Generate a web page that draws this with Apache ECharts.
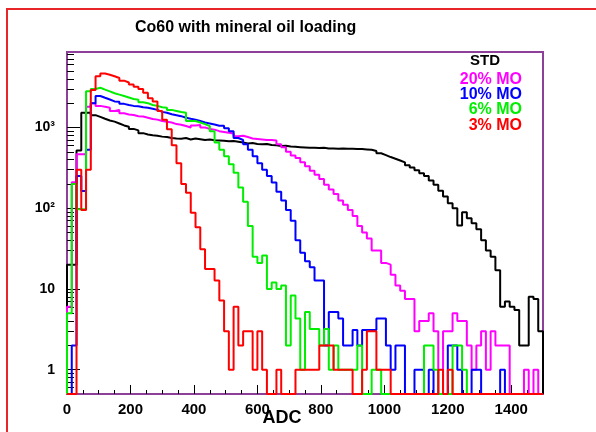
<!DOCTYPE html>
<html>
<head>
<meta charset="utf-8">
<script src="https://cdn.jsdelivr.net/npm/echarts@6/dist/echarts.min.js"></script>
<style>
  html, body { margin: 0; padding: 0; background: #fff; }
  #chart { width: 596px; height: 432px; }
</style>
</head>
<body>
<div id="chart"></div>
<script>
// histogram: 100 bins of 15 ADC from 0 to 1500, counts per bin (0 = empty bin)
const binWidth = 15;

const std = [
  20, 20, 520, 1520, 1520, 1420, 1350, 1280, 1220, 1180,
  1120, 1060, 1020, 960, 920, 850, 820, 800, 790, 770,
  760, 740, 730, 725, 740, 710, 730, 715, 700, 710,
  695, 690, 685, 675, 680, 665, 650, 635, 640, 625,
  620, 625, 605, 600, 590, 595, 580, 575, 570, 565,
  560, 560, 555, 560, 550, 550, 545, 550, 545, 545,
  540, 540, 535, 530, 510, 480, 455, 430, 410, 390,
  370, 340, 320, 295, 270, 250, 220, 195, 165, 140,
  115, 100, 61, 89, 75, 65, 55, 40, 30, 25,
  17, 6, 7, 6, 5.5, 2, 2, 8, 7.5, 3
];

const mo20 = [
  6, 210, 465, 465, 1800, 2000, 1850, 1800, 1750, 1600,
  1650, 1500, 1450, 1430, 1380, 1370, 1320, 1270, 1250, 1200,
  1180, 1150, 1100, 1080, 1040, 1000, 1060, 1070, 1000, 960,
  940, 900, 880, 860, 840, 780, 790, 760, 730, 720,
  710, 700, 700, 690, 620, 570, 500, 450, 420, 370,
  330, 290, 260, 230, 195, 170, 150, 125, 110, 95,
  80, 60, 50, 42, 30, 30, 21, 20, 15, 11,
  9.5, 7.5, 7.5, 3, 4, 4, 5, 3, 0, 3,
  3, 5, 4, 4, 2, 1, 2, 3, 1, 3,
  2, 2, 2, 0, 0, 0, 1, 0, 1, 0
];

const mo10 = [
  0, 2, 250, 163, 530, 2000, 2450, 2330, 2220, 2100,
  2080, 1960, 1900, 1850, 1830, 1780, 1750, 1700, 1650, 1560,
  1520, 1460, 1420, 1380, 1320, 1280, 1250, 1200, 1150, 1120,
  1090, 1050, 1050, 980, 900, 740, 700, 620, 530, 440,
  360, 300, 250, 208, 160, 125, 95, 70, 40, 28,
  22, 18.5, 12.7, 12.7, 2, 5.2, 5.2, 4.3, 2, 2,
  3.1, 2, 3.1, 3.1, 3.1, 4.3, 4.3, 2, 1, 2,
  2, 0, 0, 1, 1, 0, 1, 0, 0, 0,
  2, 2, 1, 0, 0, 1, 1, 0, 0, 0,
  0, 1, 0, 0, 0, 0, 0, 0, 0, 0
];

const mo6 = [
  5, 200, 97, 97, 2800, 3000, 3100, 2940, 2800, 2650,
  2550, 2450, 2350, 2250, 2200, 2050, 2000, 1900, 1850, 1780,
  1750, 1650, 1600, 1550, 1520, 1200, 1200, 1150, 1100, 1040,
  900, 650, 530, 440, 350, 275, 180, 120, 60, 25,
  21, 26, 10, 12, 10, 11, 2, 8.3, 4.3, 1,
  5.2, 3.2, 3.2, 2, 3.2, 1, 2, 1, 1, 1,
  1, 2, 0, 0, 1, 1, 0, 0, 0, 0,
  0, 0, 0, 0, 0, 2, 2, 1, 0, 0,
  0, 2, 2, 1, 0, 0, 0, 0, 0, 0,
  0, 0, 0, 0, 0, 0, 0, 0, 0, 0
];

const mo3 = [
  0, 0, 300, 95, 300, 2900, 4300, 4650, 4500, 4300,
  4100, 3800, 3600, 3400, 3200, 3000, 2700, 2300, 2100, 1600,
  1250, 950, 600, 360, 200, 155, 88, 58, 31, 17.6,
  17.6, 12.7, 7.2, 3, 1, 6, 2, 3, 3, 1,
  3, 1, 0, 0, 1, 0, 0, 0, 1, 1,
  1, 1, 1, 2, 2, 2, 1, 1, 1, 1,
  0, 0, 1, 3, 3, 1, 1, 1, 0, 0,
  0, 0, 0, 0, 0, 0, 0, 0, 1, 0,
  1, 0, 0, 0, 0, 0, 0, 0, 0, 0,
  0, 0, 0, 0, 0, 0, 0, 0, 0, 0
];

const seriesNames = ['STD', '20% MO', '10% MO', '6% MO', '3% MO'];
const seriesColors = ['#000000', '#ff00ff', '#0000ff', '#00ee00', '#ff0000'];
const seriesValues = [std, mo20, mo10, mo6, mo3];

const xMajorTicks = [0, 200, 400, 600, 800, 1000, 1200, 1400];
const xMinorTicks = [];
for (let v = 50; v < 1500; v += 50) if (v % 200 !== 0) xMinorTicks.push(v);
const yMajorTicks = [1, 10, 100, 1000];
const yMinorTicks = [0.6, 0.7, 0.8, 0.9];
[1, 10, 100, 1000].forEach(d => { for (let k = 2; k <= 9; k++) yMinorTicks.push(k * d); });

const yMin = 0.5;
const yMax = 8600;
const frameColor = '#8e3f9a';

// ROOT-like outline: from the baseline up, flat over each bin, back down at the end
function histPoints(values) {
  const lift = v => (v > 0 ? v : yMin);
  const pts = [[0, yMin]];
  values.forEach((v, i) => pts.push([i * binWidth, lift(v)]));
  const end = values.length * binWidth;
  pts.push([end, lift(values[values.length - 1])]);
  pts.push([end, yMin]);
  return pts;
}

const chart = echarts.init(document.getElementById('chart'));

const labelFont = { color: '#000', fontFamily: 'Liberation Sans, Arial, sans-serif', fontWeight: 'bold' };
const legendFont = 'bold 16px Liberation Sans, Arial, sans-serif';

const option = {
  animation: false,
  backgroundColor: '#fff',
  title: {
    text: 'Co60 with mineral oil loading',
    left: 135,
    top: 20,
    padding: 0,
    textStyle: { ...labelFont, fontSize: 16 }
  },
  grid: {
    left: 67, right: 53, top: 52, bottom: 38,
    show: true, borderColor: frameColor, borderWidth: 2, backgroundColor: 'transparent'
  },
  xAxis: [
    {
      type: 'value', min: 0, max: 1500,
      axisLine: { show: true, onZero: false, lineStyle: { color: frameColor, width: 2 } },
      axisTick: { show: true, inside: true, length: 9, customValues: xMajorTicks, lineStyle: { color: '#000' } },
      axisLabel: { customValues: xMajorTicks, margin: 8, fontSize: 15, ...labelFont, formatter: v => String(v) },
      splitLine: { show: false }
    },
    {
      type: 'value', min: 0, max: 1500, position: 'bottom',
      axisLine: { show: false, onZero: false },
      axisTick: { show: true, inside: true, length: 4, customValues: xMinorTicks, lineStyle: { color: '#000' } },
      axisLabel: { show: false },
      splitLine: { show: false }
    }
  ],
  yAxis: [
    {
      type: 'log', logBase: 10, min: yMin, max: yMax,
      axisLine: { show: true, lineStyle: { color: frameColor, width: 2 } },
      axisTick: { show: true, inside: true, length: 13, customValues: yMajorTicks, lineStyle: { color: '#000' } },
      axisLabel: {
        customValues: yMajorTicks, margin: 12, fontSize: 14, ...labelFont,
        formatter: v => (v < 100 ? String(Math.round(v)) : '10' + (v >= 1000 ? '\u00b3' : '\u00b2'))
      },
      splitLine: { show: false }
    },
    {
      type: 'log', logBase: 10, min: yMin, max: yMax, position: 'left',
      axisLine: { show: false },
      axisTick: { show: true, inside: true, length: 7, customValues: yMinorTicks, lineStyle: { color: '#000' } },
      axisLabel: { show: false },
      splitLine: { show: false }
    }
  ],
  series: seriesValues.map((vals, k) => ({
    name: seriesNames[k],
    type: 'line',
    step: 'end',
    xAxisIndex: 0,
    yAxisIndex: 0,
    symbol: 'none',
    lineStyle: { color: seriesColors[k], width: 2 },
    data: histPoints(vals)
  })),
  graphic: [
    { type: 'rect', silent: true, shape: { x: 7, y: 9, width: 640, height: 460 },
      style: { fill: 'none', stroke: '#e8262a', lineWidth: 2 } },
    { type: 'text', x: 282, y: 418, style: { text: 'ADC', fill: '#000', font: 'bold 18px Liberation Sans, Arial, sans-serif', textAlign: 'center', textVerticalAlign: 'middle' } },
    { type: 'text', x: 485, y: 61, style: { text: 'STD', fill: seriesColors[0], font: 'bold 15px Liberation Sans, Arial, sans-serif', textAlign: 'center', textVerticalAlign: 'middle' } },
    { type: 'text', x: 522, y: 80, style: { text: seriesNames[1], fill: seriesColors[1], font: legendFont, textAlign: 'right', textVerticalAlign: 'middle' } },
    { type: 'text', x: 522, y: 95, style: { text: seriesNames[2], fill: seriesColors[2], font: legendFont, textAlign: 'right', textVerticalAlign: 'middle' } },
    { type: 'text', x: 522, y: 110, style: { text: seriesNames[3], fill: seriesColors[3], font: legendFont, textAlign: 'right', textVerticalAlign: 'middle' } },
    { type: 'text', x: 522, y: 126, style: { text: seriesNames[4], fill: seriesColors[4], font: legendFont, textAlign: 'right', textVerticalAlign: 'middle' } }
  ]
};

chart.setOption(option);
</script>
</body>
</html>
